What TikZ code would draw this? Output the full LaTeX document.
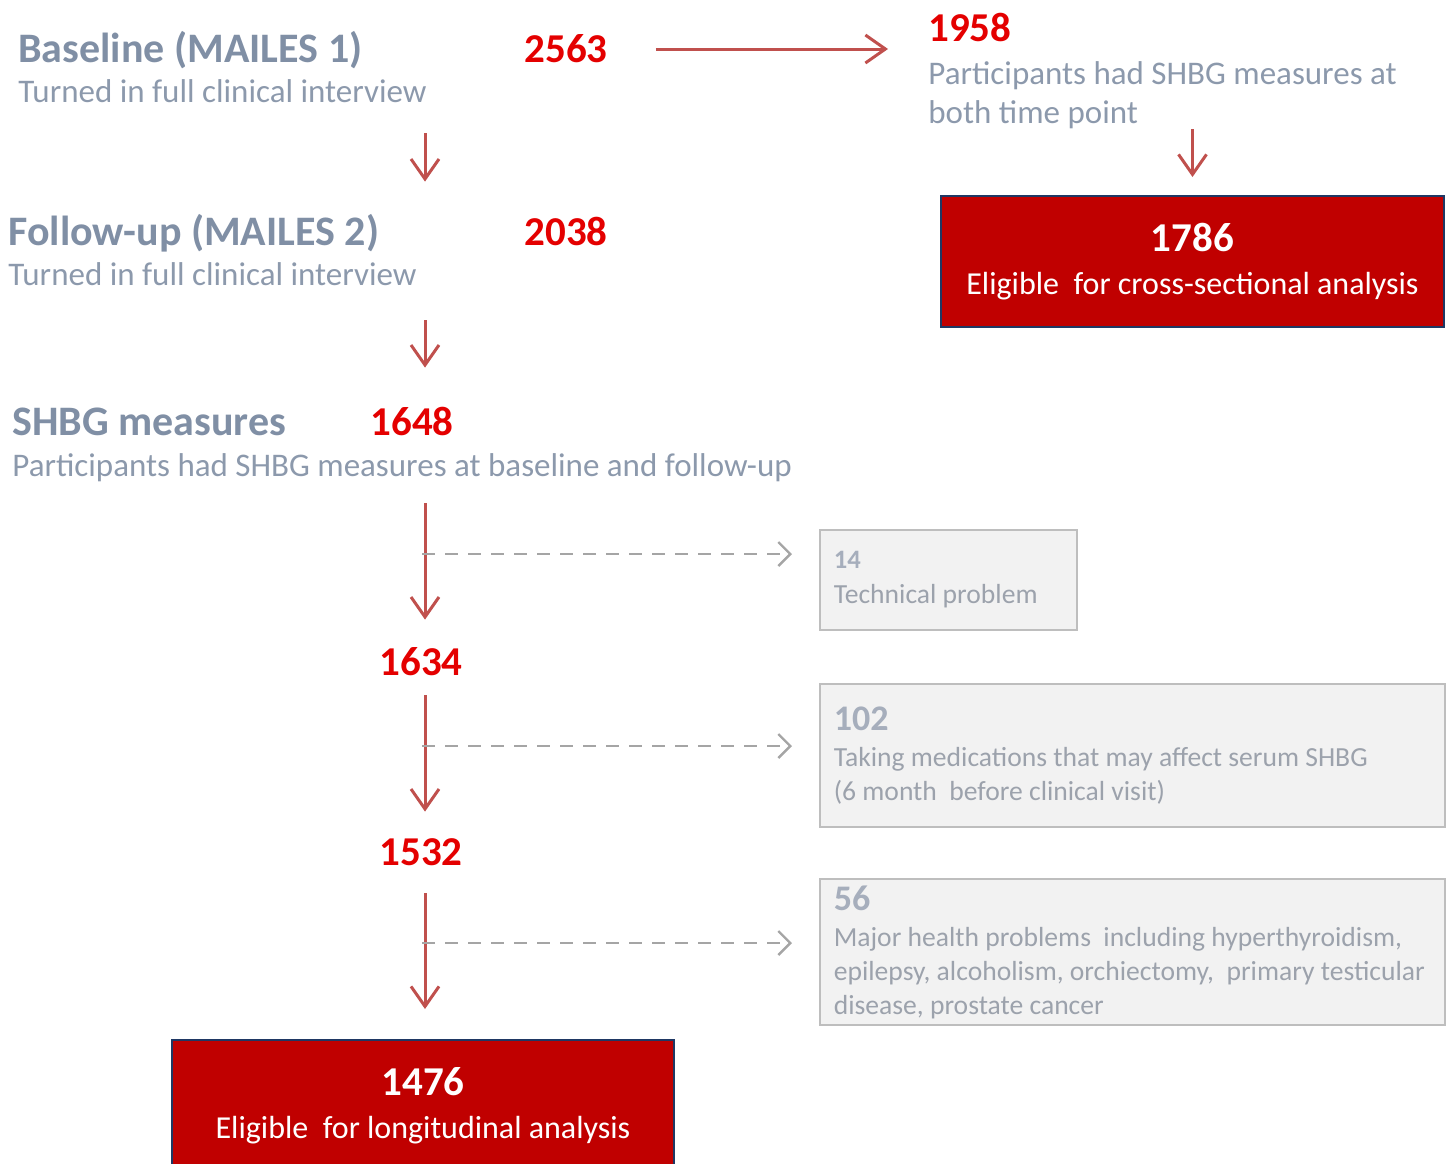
\documentclass[tikz,border=0pt]{standalone}
\usepackage{fontspec}
\setmainfont{Carlito}
\usetikzlibrary{arrows.meta, positioning}

\definecolor{headgray}{RGB}{128,143,165}
\definecolor{subgray}{RGB}{140,153,172}
\definecolor{countred}{RGB}{228,0,0}
\definecolor{arrowred}{RGB}{192,80,77}
\definecolor{finalred}{RGB}{192,0,0}
\definecolor{finalblue}{RGB}{31,56,100}
\definecolor{exclfill}{RGB}{242,242,242}
\definecolor{exclline}{RGB}{190,190,190}
\definecolor{excltext}{RGB}{156,162,172}
\definecolor{exclnum}{RGB}{166,174,188}
\definecolor{dashgray}{RGB}{165,165,165}

\begin{document}
\begin{tikzpicture}[
		x=0.5pt, y=-0.5pt,
		head/.style={anchor=base west, inner sep=0, text=headgray, font=\bfseries\fontsize{21}{25}\selectfont, text height=16pt, text depth=5pt},
		sub/.style={anchor=base west, inner sep=0, text=subgray, font=\fontsize{16.5}{19.5}\selectfont, text height=12pt, text depth=4pt},
		count/.style={anchor=base, inner sep=0, text=countred, font=\bfseries\fontsize{20.5}{24}\selectfont, text height=13pt, text depth=0pt},
		final/.style={draw=finalblue, line width=1pt, fill=finalred, text=white, align=center, minimum height=65.5pt, font=\fontsize{16}{19}\selectfont},
		excl/.style={draw=exclline, line width=0.8pt, fill=exclfill, text=excltext, align=flush left, anchor=north west, inner xsep=7pt, font=\fontsize{13.8}{17}\selectfont},
		arrow/.style={-{Straight Barb[length=10pt, width=14pt]}, arrowred, line width=1.5pt},
		dasharrow/.style={-{Straight Barb[length=6pt, width=12pt]}, dashgray, line width=1.2pt, dash pattern=on 6.5pt off 5pt}
		]
		\useasboundingbox (0,0) rectangle (1450,1163);

		% Nodes
		\node[head] (basehead) at (18,62) {Baseline (MAILES 1)};
		\node[sub] (basesub) at (18,102) {Turned in full clinical interview};
		\node[count] (n2563) at (566,62) {2563};

		\node[count, anchor=base west] (n1958) at (928,41) {1958};
		\node[sub, anchor=north west, align=left, text height=, text depth=] (n1958sub) at (928,61) {Participants had SHBG measures at\\both time point};
		\node[final, minimum width=251.5pt] (cross) at (1192.5,261.5) {{\bfseries\fontsize{20.5}{20.5}\selectfont 1786}\\[2.5pt]Eligible~ for cross-sectional analysis};

		\node[head] (followhead) at (8,245) {Follow-up (MAILES 2)};
		\node[sub] (followsub) at (8,285) {Turned in full clinical interview};
		\node[count] (n2038) at (566,245) {2038};

		\node[head] (shbghead) at (12,435) {SHBG measures};
		\node[count] (n1648) at (412,435) {1648};
		\node[sub] (shbgsub) at (12,476) {Participants had SHBG measures at baseline and follow-up};

		\node[count] (n1634) at (421,675) {1634};
		\node[count] (n1532) at (421,865) {1532};
		\node[final, minimum width=251pt] (long) at (423,1105.5) {{\bfseries\fontsize{20.5}{20.5}\selectfont 1476}\\[2.5pt]Eligible~ for longitudinal analysis};

		\node[excl, minimum height=50pt, text width=114.5pt] (box14) at (819,529) {{\color{exclnum}\bfseries\fontsize{13.3}{13.3}\selectfont 14}\\[0.5pt]Technical problem};
		\node[excl, minimum height=71.5pt, text width=298.5pt] (box102) at (819,683) {{\color{exclnum}\bfseries\fontsize{18}{18}\selectfont 102}\\[1pt]Taking medications that may affect serum SHBG\\(6 month~ before clinical visit)};
		\node[excl, minimum height=72.5pt, text width=298.5pt] (box56) at (819,878) {{\color{exclnum}\bfseries\fontsize{18}{18}\selectfont 56}\\[1pt]Major health problems~ including hyperthyroidism,\\epilepsy, alcoholism, orchiectomy,~ primary testicular\\disease, prostate cancer};

		\coordinate (spine) at (425,0);
		\coordinate (drop1) at (422,554);
		\coordinate (drop2) at (422,746);
		\coordinate (drop3) at (422,943);

		% Arrows
		\draw[arrow, shorten <=24pt, shorten >=20pt] (n2563.east) -- (n1958.west |- n2563);
		\draw[arrow, shorten >=9pt] (cross.north |- n1958sub.south) -- (cross.north);
		\draw[arrow, shorten <=11.5pt, shorten >=15.5pt] (spine |- basesub.south) -- (spine |- followhead.north);
		\draw[arrow, shorten <=13.5pt, shorten >=17.5pt] (spine |- followsub.south) -- (spine |- shbghead.north);
		\draw[arrow, shorten <=9.5pt, shorten >=14.5pt] (spine |- shbgsub.south) -- (spine |- n1634.north);
		\draw[arrow, shorten <=10pt, shorten >=13.5pt] (spine |- n1634.south) -- (spine |- n1532.north);
		\draw[arrow, shorten <=14pt, shorten >=15pt] (spine |- n1532.south) -- (spine |- long.north);

		\draw[dasharrow, shorten >=13.5pt] (drop1) -- (drop1 -| box14.west);
		\draw[dasharrow, shorten >=13.5pt] (drop2) -- (drop2 -| box102.west);
		\draw[dasharrow, shorten >=13.5pt] (drop3) -- (drop3 -| box56.west);

	\end{tikzpicture}
\end{document}
